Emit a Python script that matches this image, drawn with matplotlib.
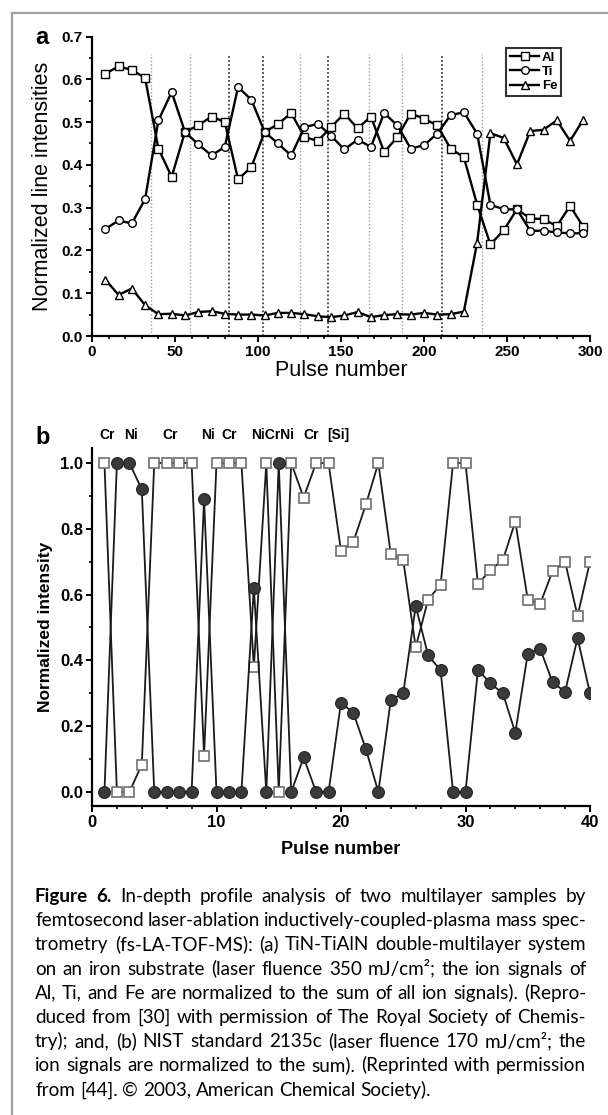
import matplotlib
matplotlib.use("Agg")
import matplotlib.pyplot as plt
from matplotlib.lines import Line2D
from matplotlib.ticker import MultipleLocator

# ---------------- panel a data ----------------
pulse_a = [8, 16, 24, 32, 40, 48, 56, 64, 72, 80, 88, 96, 104, 112, 120, 128, 136,
           144, 152, 160, 168, 176, 184, 192, 200, 208, 216, 224, 232, 240, 248,
           256, 264, 272, 280, 288, 296]
al = [0.613, 0.630, 0.622, 0.603, 0.438, 0.372, 0.477, 0.492, 0.513, 0.500, 0.366,
      0.395, 0.477, 0.495, 0.521, 0.465, 0.456, 0.488, 0.520, 0.485, 0.513, 0.430,
      0.465, 0.520, 0.508, 0.492, 0.438, 0.418, 0.307, 0.214, 0.247, 0.296, 0.275,
      0.273, 0.257, 0.304, 0.255]
ti = [0.250, 0.270, 0.263, 0.320, 0.504, 0.570, 0.477, 0.448, 0.422, 0.442, 0.582,
      0.552, 0.477, 0.450, 0.422, 0.488, 0.496, 0.468, 0.436, 0.459, 0.442, 0.521,
      0.492, 0.438, 0.446, 0.473, 0.516, 0.523, 0.473, 0.307, 0.296, 0.296, 0.246,
      0.246, 0.242, 0.240, 0.240]
fe = [0.132, 0.096, 0.111, 0.072, 0.051, 0.052, 0.048, 0.056, 0.058, 0.052, 0.050,
      0.050, 0.048, 0.054, 0.054, 0.051, 0.046, 0.044, 0.048, 0.056, 0.044, 0.049,
      0.051, 0.050, 0.054, 0.050, 0.051, 0.057, 0.218, 0.474, 0.463, 0.401, 0.479,
      0.482, 0.504, 0.456, 0.506]
# layer boundaries (dotted lines)
bounds_light = [35.5, 59, 125, 167, 187, 235]
bounds_dark = [82.5, 103, 142, 211]
bound_top = 0.66

# ---------------- panel b data ----------------
pulse_b = [1, 2, 3, 4, 5, 6, 7, 8, 9, 10, 11, 12, 13, 14, 15, 16, 17, 18, 19, 20,
           21, 22, 23, 24, 25, 26, 27, 28, 29, 30, 31, 32, 33, 34, 35, 36, 37, 38, 39, 40]
sq_b = [1.0, 0.0, 0.0, 0.083, 1.0, 1.0, 1.0, 1.0, 0.11, 1.0, 1.0, 1.0, 0.38, 1.0, 0.0,
        1.0, 0.895, 1.0, 1.0, 0.733, 0.761, 0.874, 1.0, 0.723, 0.704, 0.44, 0.585,
        0.63, 1.0, 1.0, 0.632, 0.675, 0.705, 0.822, 0.585, 0.572, 0.672, 0.70, 0.535, 0.70]
ci_b = [0.0, 1.0, 1.0, 0.92, 0.0, 0.0, 0.0, 0.0, 0.89, 0.0, 0.0, 0.0, 0.62, 0.0, 1.0,
        0.0, 0.105, 0.0, 0.0, 0.272, 0.24, 0.13, 0.0, 0.28, 0.30, 0.565, 0.415, 0.37,
        0.0, 0.0, 0.372, 0.33, 0.30, 0.18, 0.42, 0.435, 0.333, 0.305, 0.468, 0.30]
elem_labels = ["Cr", "Ni", "Cr", "Ni", "Cr", "NiCrNi", "Cr", "[Si]"]
elem_pos = [1.2, 3.1, 6.3, 9.3, 11.0, 14.5, 17.6, 19.8]

caption_lines = [
    "Figure 6. In-depth profile analysis of two multilayer samples by",
    "femtosecond laser-ablation inductively-coupled-plasma mass spec-",
    "trometry (fs-LA-TOF-MS): (a) TiN-TiAlN double-multilayer system",
    "on an iron substrate (laser fluence 350 mJ/cm\u00b2; the ion signals of",
    "Al, Ti, and Fe are normalized to the sum of all ion signals). (Repro-",
    "duced from [30] with permission of The Royal Society of Chemis-",
    "try); and, (b) NIST standard 2135c (laser fluence 170 mJ/cm\u00b2; the",
    "ion signals are normalized to the sum). (Reprinted with permission",
    "from [44]. \u00a9 2003, American Chemical Society).",
]

W, H = 608, 1115
plt.rcParams['font.family'] = ['Liberation Sans', 'DejaVu Sans']


def fx(px):
    return px / W


def fy(py):
    return 1 - py / H


def axes_px(left, top, right, bottom):
    return [fx(left), fy(bottom), (right - left) / W, (bottom - top) / H]


def style_axes(ax, labelsize):
    for s in ['top', 'right']:
        ax.spines[s].set_visible(False)
    for s in ['left', 'bottom']:
        ax.spines[s].set_linewidth(1.6)
    ax.tick_params(which='major', direction='out', length=4.5, width=1.4,
                   labelsize=labelsize, pad=2)
    ax.tick_params(which='minor', direction='out', length=2.5, width=1.2)
    for lab in ax.get_xticklabels() + ax.get_yticklabels():
        lab.set_fontweight('bold')


fig = plt.figure(figsize=(W / 100, H / 100), dpi=100, facecolor='white')

# outer grey frame
fig.add_artist(Line2D([fx(12), fx(12)], [fy(13), 0], color='#a0a0a0', lw=1.6))
fig.add_artist(Line2D([fx(12), 1], [fy(13), fy(13)], color='#a0a0a0', lw=1.6))

# ---------------- panel a ----------------
ax1 = fig.add_axes(axes_px(92, 36.5, 590, 336))
for b in bounds_light:
    ax1.plot([b, b], [0, bound_top], color='#9a9a9a', lw=1.0, ls=(0, (1, 1.5)), zorder=1)
for b in bounds_dark:
    ax1.plot([b, b], [0, bound_top], color='#444444', lw=1.3, ls=(0, (1, 1.2)), zorder=1)

mk = dict(markerfacecolor='white', markeredgecolor='black', markeredgewidth=1.0,
          markersize=5.5, color='black', lw=1.7)
ax1.plot(pulse_a, al, marker='s', label='Al', zorder=3, **mk)
ax1.plot(pulse_a, ti, marker='o', label='Ti', zorder=3, **mk)
ax1.plot(pulse_a, fe, marker='^', label='Fe', zorder=3, **mk)

ax1.set_xlim(0, 300)
ax1.set_ylim(0, 0.7)
ax1.xaxis.set_major_locator(MultipleLocator(50))
ax1.xaxis.set_minor_locator(MultipleLocator(10))
ax1.yaxis.set_major_locator(MultipleLocator(0.1))
ax1.yaxis.set_minor_locator(MultipleLocator(0.05))
ax1.set_yticks([0, 0.1, 0.2, 0.3, 0.4, 0.5, 0.6, 0.7])
ax1.set_yticklabels(['0.0', '0.1', '0.2', '0.3', '0.4', '0.5', '0.6', '0.7'])
style_axes(ax1, 11)
ax1.set_xlabel('Pulse number', fontsize=15.5, labelpad=1)
ax1.set_ylabel('Normalized line intensities', fontsize=15.5, labelpad=6)
leg = ax1.legend(loc='upper right', bbox_to_anchor=(0.956, 0.985), frameon=True,
                 fancybox=False, edgecolor='black', handlelength=2.2,
                 handletextpad=0.2, borderpad=0.3, labelspacing=0.15,
                 prop={'weight': 'bold', 'size': 9.5})
leg.get_frame().set_linewidth(1.5)
fig.text(fx(35), fy(37), 'a', fontsize=17, fontweight='bold', ha='left', va='center')

# ---------------- panel b ----------------
ax2 = fig.add_axes(axes_px(92, 448, 590, 806))
ax2.plot(pulse_b, sq_b, color='#1a1a1a', lw=1.3, marker='s', markersize=7.5,
         markerfacecolor='white', markeredgecolor='#707070', markeredgewidth=1.2,
         zorder=3)
ax2.plot(pulse_b, ci_b, color='#1a1a1a', lw=1.3, marker='o', markersize=8.5,
         markerfacecolor='#3a3a3a', markeredgecolor='#222222', markeredgewidth=0.8,
         zorder=3)
ax2.set_xlim(0, 40)
ax2.set_ylim(-0.0426, 1.0456)
ax2.xaxis.set_major_locator(MultipleLocator(10))
ax2.xaxis.set_minor_locator(MultipleLocator(2))
ax2.yaxis.set_major_locator(MultipleLocator(0.2))
ax2.yaxis.set_minor_locator(MultipleLocator(0.1))
ax2.set_yticks([0, 0.2, 0.4, 0.6, 0.8, 1.0])
ax2.set_yticklabels(['0.0', '0.2', '0.4', '0.6', '0.8', '1.0'])
style_axes(ax2, 12)
ax2.set_xlabel('Pulse number', fontsize=13, fontweight='bold', labelpad=8)
ax2.set_ylabel('Normalized intensity', fontsize=12.5, fontweight='bold', labelpad=5)
for lab, pos in zip(elem_labels, elem_pos):
    ax2.text(pos, 1.085, lab, fontsize=10, fontweight='bold', ha='center',
             va='center', clip_on=False)
fig.text(fx(35), fy(437), 'b', fontsize=17, fontweight='bold', ha='left', va='center')

# ---------------- caption (justified) ----------------
renderer = fig.canvas.get_renderer()
cap_left, cap_right = 35, 586
cap_y0, cap_dy = 902, 24.2   # baseline of first line, line pitch (px)
cap_font = ['Lato', 'DejaVu Sans']


def natural_width(line, size):
    t = fig.text(0, 0, line, fontsize=size, family=cap_font)
    w = t.get_window_extent(renderer).width
    t.remove()
    return w


# scale the font so the tightest line (few spaces) fills the column naturally
cap_size = 12 * (cap_right - cap_left) / natural_width(caption_lines[1], 12)
space_w = natural_width('a b', cap_size) - natural_width('ab', cap_size)

for i, line in enumerate(caption_lines):
    words = line.split(' ')
    y = fy(cap_y0 + i * cap_dy)
    texts = []
    for j, w in enumerate(words):
        bold = (i == 0 and j < 2)
        t = fig.text(0, y, w, fontsize=cap_size, family=cap_font, va='baseline',
                     ha='left', fontweight='bold' if bold else 'normal')
        texts.append(t)
    widths = [t.get_window_extent(renderer).width for t in texts]
    if i == len(caption_lines) - 1:
        gap = space_w
    else:
        gap = (cap_right - cap_left - sum(widths)) / (len(words) - 1)
    x = cap_left
    for t, w in zip(texts, widths):
        t.set_x(fx(x))
        x += w + gap

fig.savefig('out.png', dpi=100, facecolor='white')
